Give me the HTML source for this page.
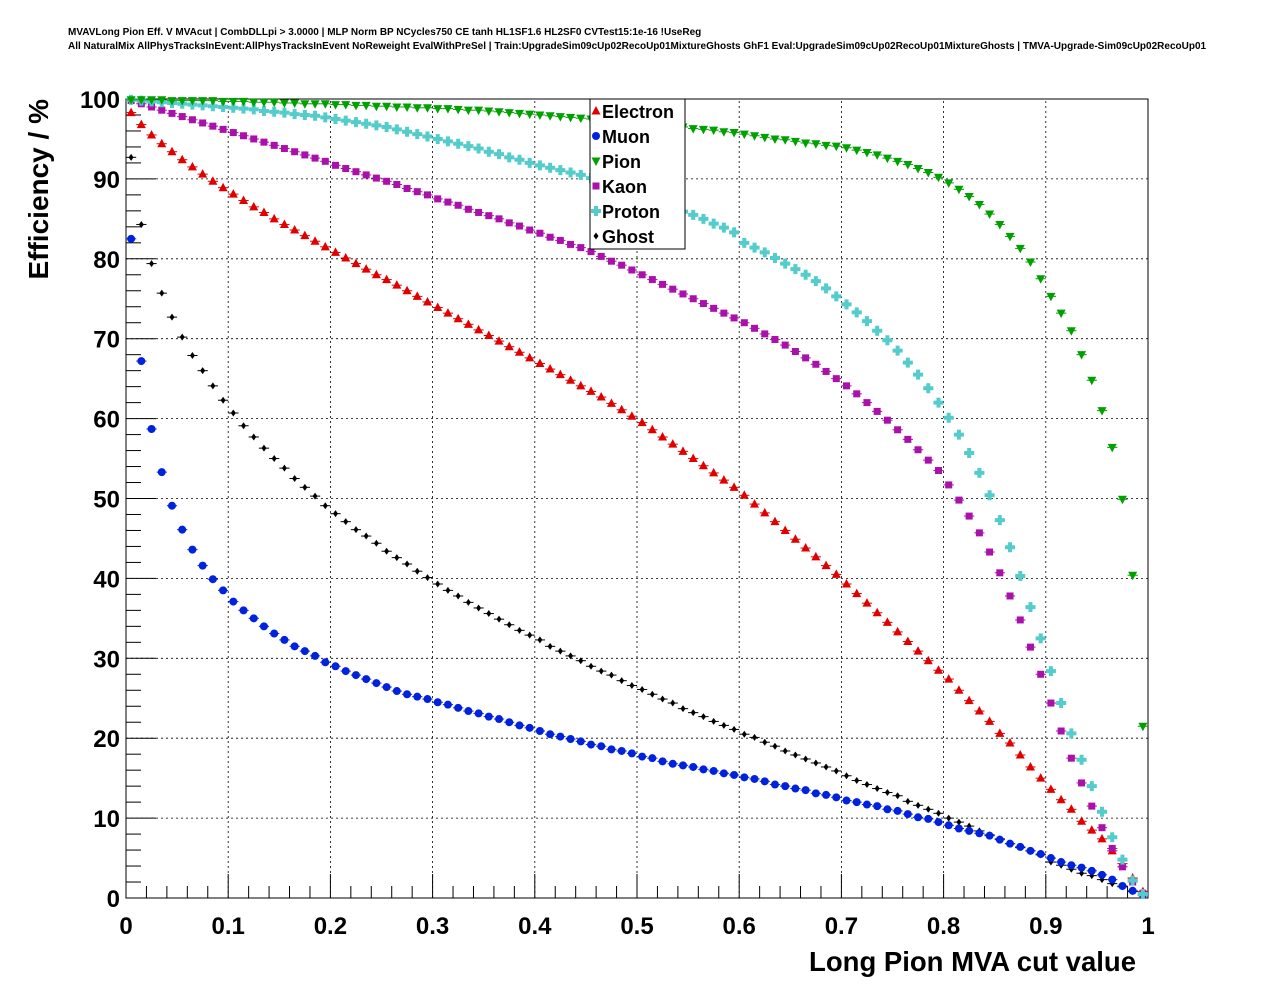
<!DOCTYPE html>
<html><head><meta charset="utf-8">
<style>
html,body{margin:0;padding:0;background:#fff;width:1276px;height:996px;overflow:hidden}
svg text{font-family:"Liberation Sans",sans-serif}
</style></head>
<body>
<svg id="chart" width="1276" height="996" xmlns="http://www.w3.org/2000/svg">
<text x="68" y="35" font-size="10" font-weight="bold">MVAVLong Pion Eff. V MVAcut | CombDLLpi &gt; 3.0000 | MLP Norm BP NCycles750 CE tanh HL1SF1.6 HL2SF0 CVTest15:1e-16 !UseReg</text>
<text x="68" y="49" font-size="10" font-weight="bold">All NaturalMix AllPhysTracksInEvent:AllPhysTracksInEvent NoReweight EvalWithPreSel | Train:UpgradeSim09cUp02RecoUp01MixtureGhosts GhF1 Eval:UpgradeSim09cUp02RecoUp01MixtureGhosts | TMVA-Upgrade-Sim09cUp02RecoUp01</text>
<g id="grid"></g>
<g id="axes"></g>
<g id="marks"></g>
<text x="0" y="0" font-size="28" font-weight="bold" text-anchor="end" transform="translate(48,99) rotate(-90)">Efficiency / %</text>
<text x="1136" y="971" font-size="27.5" font-weight="bold" text-anchor="end">Long Pion MVA cut value</text>
<g id="legend"></g>
</svg>
<script>
const xTicks=[0,0.1,0.2,0.3,0.4,0.5,0.6,0.7,0.8,0.9,1];
const xTickLabels=["0","0.1","0.2","0.3","0.4","0.5","0.6","0.7","0.8","0.9","1"];
const yTicks=[0,10,20,30,40,50,60,70,80,90,100];
const yTickLabels=["0","10","20","30","40","50","60","70","80","90","100"];
const seriesNames=["Electron","Muon","Pion","Kaon","Proton","Ghost"];
const electron=[98.3,96.8,95.5,94.4,93.4,92.4,91.5,90.6,89.7,88.9,88.1,87.3,86.5,85.8,85.0,84.3,83.6,82.9,82.2,81.5,80.8,80.1,79.4,78.7,78.0,77.4,76.7,76.0,75.3,74.6,73.9,73.2,72.5,71.8,71.1,70.4,69.7,69.0,68.3,67.6,66.9,66.2,65.5,64.8,64.1,63.4,62.7,61.9,61.1,60.3,59.5,58.6,57.7,56.8,55.9,55.0,54.1,53.2,52.3,51.4,50.4,49.3,48.2,47.1,46.0,44.9,43.8,42.7,41.6,40.5,39.3,38.1,36.9,35.7,34.5,33.3,32.1,30.9,29.7,28.5,27.4,26.0,24.7,23.4,22.1,20.6,19.4,17.9,16.4,15.0,13.6,12.3,11.1,9.6,8.5,7.4,5.9,4.3,2.5,0.8];
const muon=[82.5,67.2,58.7,53.3,49.1,46.1,43.6,41.6,39.9,38.5,37.1,36.0,35.0,34.0,33.1,32.3,31.5,30.9,30.3,29.5,29.0,28.4,27.9,27.4,26.9,26.4,25.9,25.5,25.2,24.9,24.5,24.2,23.8,23.4,23.1,22.7,22.4,22.0,21.6,21.3,20.9,20.5,20.2,19.9,19.6,19.2,19.0,18.6,18.4,18.1,17.7,17.5,17.1,16.8,16.6,16.4,16.1,15.9,15.6,15.4,15.1,14.9,14.6,14.2,14.0,13.7,13.5,13.1,12.9,12.6,12.2,12.0,11.7,11.5,11.1,10.9,10.5,10.1,9.9,9.5,9.1,8.7,8.4,8.1,7.8,7.3,6.8,6.4,5.9,5.5,5.0,4.5,4.1,3.8,3.4,2.9,2.3,1.5,0.9,0.4];
const pion=[99.9,99.9,99.9,99.9,99.8,99.8,99.8,99.8,99.8,99.7,99.7,99.7,99.6,99.6,99.6,99.5,99.5,99.4,99.4,99.4,99.3,99.3,99.2,99.2,99.1,99.1,99.0,99.0,98.9,98.9,98.8,98.8,98.7,98.6,98.6,98.5,98.4,98.3,98.2,98.1,98.0,97.9,97.8,97.7,97.6,97.5,97.4,97.3,97.1,97.0,96.9,96.8,96.7,96.6,96.5,96.3,96.2,96.1,95.9,95.8,95.6,95.4,95.2,95.0,94.9,94.7,94.5,94.4,94.2,94.1,93.9,93.6,93.3,93.0,92.6,92.2,91.8,91.3,90.8,90.2,89.5,88.7,87.8,86.8,85.6,84.3,82.8,81.3,79.6,77.5,75.3,73.2,71.0,68.0,64.8,61.0,56.4,49.9,40.4,21.5];
const kaon=[99.8,99.4,99.0,98.6,98.2,97.8,97.4,97.0,96.6,96.2,95.8,95.4,95.0,94.6,94.2,93.8,93.4,93.0,92.6,92.2,91.7,91.3,90.9,90.5,90.1,89.7,89.3,88.8,88.4,88.0,87.5,87.1,86.7,86.2,85.8,85.4,85.0,84.5,84.1,83.6,83.2,82.7,82.3,81.8,81.4,80.9,80.3,79.7,79.2,78.6,78.0,77.4,76.8,76.2,75.6,75.0,74.4,73.8,73.2,72.6,72.0,71.3,70.6,69.9,69.2,68.4,67.6,66.8,65.9,65.0,64.1,63.1,62.0,60.9,59.8,58.6,57.4,56.1,54.8,53.5,51.7,49.8,47.8,45.7,43.3,40.7,37.8,34.8,31.4,28.0,24.4,20.9,17.5,14.4,11.5,8.8,6.2,3.9,2.0,0.6];
const proton=[99.9,99.8,99.7,99.6,99.5,99.4,99.3,99.2,99.1,99.0,98.9,98.8,98.7,98.5,98.4,98.3,98.1,98.0,97.9,97.7,97.5,97.3,97.1,96.9,96.7,96.5,96.2,95.9,95.6,95.3,95.0,94.7,94.4,94.1,93.8,93.4,93.1,92.7,92.4,92.0,91.7,91.4,91.1,90.8,90.5,90.1,89.7,89.2,88.8,88.4,87.9,87.4,86.9,86.4,85.9,85.5,85.0,84.4,83.9,83.3,82.0,81.4,80.8,80.1,79.4,78.7,78.0,77.2,76.3,75.3,74.3,73.3,72.2,71.0,69.8,68.5,67.0,65.5,63.8,62.0,60.1,58.0,55.7,53.2,50.4,47.3,43.9,40.3,36.4,32.5,28.4,24.4,20.6,17.3,14.0,10.8,7.6,4.8,2.2,0.5];
const ghost=[92.7,84.3,79.4,75.7,72.7,70.2,67.9,66.0,64.1,62.3,60.7,59.1,57.7,56.3,55.0,53.8,52.5,51.4,50.3,49.1,48.1,47.1,46.1,45.3,44.4,43.4,42.6,41.8,40.9,40.1,39.3,38.5,37.8,37.0,36.3,35.6,34.9,34.2,33.5,32.9,32.3,31.5,30.9,30.3,29.7,29.0,28.4,27.9,27.2,26.6,26.1,25.5,24.9,24.4,23.7,23.2,22.7,22.1,21.6,21.1,20.5,20.1,19.5,19.0,18.4,17.9,17.4,16.9,16.4,15.9,15.3,14.7,14.2,13.7,13.2,12.8,12.1,11.6,11.1,10.6,10.0,9.5,9.0,8.4,7.9,7.4,6.8,6.3,5.9,5.4,4.5,4.1,3.6,3.1,2.8,2.3,1.8,1.4,0.8,0.3];

const NS="http://www.w3.org/2000/svg";
const X0=126,X1=1148,Y0=898,Y1=99;
const sx=v=>X0+(X1-X0)*v;
const sy=v=>Y0-(Y0-Y1)*v/100;
function mk(tag,attrs,parent){const e=document.createElementNS(NS,tag);for(const k in attrs)e.setAttribute(k,attrs[k]);parent.appendChild(e);return e;}
const grid=document.getElementById('grid'),axes=document.getElementById('axes'),marks=document.getElementById('marks'),legend=document.getElementById('legend');
xTicks.forEach((t,i)=>{
  if(i>0&&i<xTicks.length-1){const g=mk('line',{x1:sx(t),x2:sx(t),y1:Y0,y2:Y1,stroke:'#000','stroke-width':0.8,'stroke-dasharray':'2,3'},grid);
  
  }
  const tk=mk('line',{x1:sx(t),x2:sx(t),y1:Y0,y2:Y0-24,stroke:'#000'},axes);
  
  
  const tx=mk('text',{x:sx(t),y:Y0+36,'font-size':24,'font-weight':'bold','text-anchor':'middle'},axes);
  tx.textContent=xTickLabels[i];
  
  
});
for(let k=1;k<50;k++){if(k%5===0)continue;mk('line',{x1:sx(k/50),x2:sx(k/50),y1:Y0,y2:Y0-12,stroke:'#000'},axes);}
yTicks.forEach((t,i)=>{
  if(i>0&&i<yTicks.length-1){const g=mk('line',{x1:X0,x2:X1,y1:sy(t),y2:sy(t),stroke:'#000','stroke-width':0.8,'stroke-dasharray':'2,3'},grid);
  
  }
  const tk=mk('line',{x1:X0,x2:X0+30,y1:sy(t),y2:sy(t),stroke:'#000'},axes);
  
  
  const tx=mk('text',{x:X0-6,y:sy(t)+9,'font-size':24,'font-weight':'bold','text-anchor':'end'},axes);
  tx.textContent=yTickLabels[i];
  
  
});
for(let k=1;k<50;k++){if(k%5===0)continue;mk('line',{x1:X0,x2:X0+15,y1:sy(k*2),y2:sy(k*2),stroke:'#000'},axes);}
const fr=mk('rect',{x:X0,y:Y1,width:X1-X0,height:Y0-Y1,fill:'none',stroke:'#000'},axes);



function marker(kind,color,cx,cy,parent){
  let e;
  if(kind==='tri')e=mk('polygon',{points:`${cx},${cy-5} ${cx-4.5},${cy+3.5} ${cx+4.5},${cy+3.5}`,fill:color},parent);
  else if(kind==='circ')e=mk('circle',{cx:cx,cy:cy,r:4,fill:color},parent);
  else if(kind==='tridown')e=mk('polygon',{points:`${cx},${cy+5} ${cx-4.5},${cy-3.5} ${cx+4.5},${cy-3.5}`,fill:color},parent);
  else if(kind==='sq')e=mk('rect',{x:cx-3.5,y:cy-3.5,width:7,height:7,fill:color},parent);
  else if(kind==='cross')e=mk('path',{d:`M${cx-5},${cy-2}h3v-3h4v3h3v4h-3v3h-4v-3h-3z`,fill:color},parent);
  else e=mk('polygon',{points:`${cx},${cy-3.5} ${cx-2.5},${cy} ${cx},${cy+3.5} ${cx+2.5},${cy}`,fill:color},parent);
  return e;
}
const seriesData=[electron,muon,pion,kaon,proton,ghost];
const kinds=['tri','circ','tridown','sq','cross','diam'];
const colors=['#e00000','#0022dd','#00a000','#aa11aa','#55cccc','#000000'];
const order=[5,1,0,3,4,2];
order.forEach(s=>{
  const g=mk('g',{},marks);
  
  
  seriesData[s].forEach((v,i)=>{
    const x=(i+0.5)/seriesData[s].length;
    const cx=sx(x),cy=sy(v);
    mk('line',{x1:sx(x-0.005),x2:sx(x+0.005),y1:cy,y2:cy,stroke:colors[s],'stroke-width':1},g);
    const m=marker(kinds[s],colors[s],cx,cy,g);
    
    
  });
});
const lb=mk('rect',{x:590,y:99,width:95,height:150,fill:'#fff',stroke:'#000'},legend);


seriesNames.forEach((n,s)=>{
  const y=111+25*s;
  const g=mk('g',{},legend);
  
  
  marker(kinds[s],colors[s],596,y,g);
  const t=mk('text',{x:602,y:y+7,'font-size':18,'font-weight':'bold'},g);
  t.textContent=n;
});
</script>
</body></html>
